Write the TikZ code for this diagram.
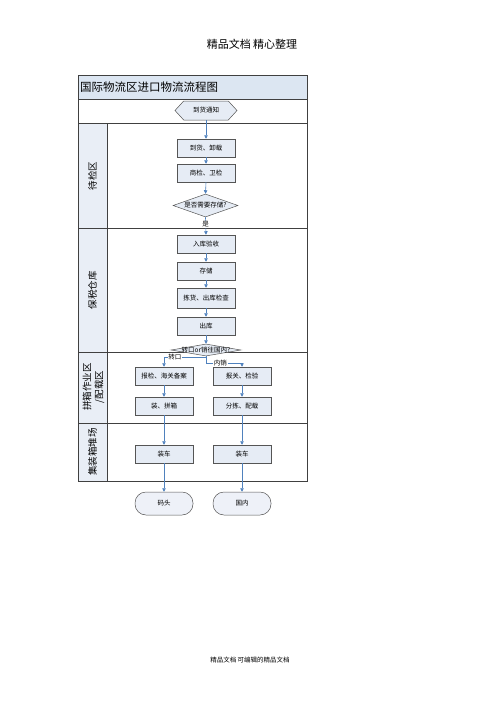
\documentclass[tikz,border=0pt]{standalone}
\usepackage{fontspec}
\setmainfont{Noto Sans CJK SC}
\usetikzlibrary{arrows.meta,shapes.geometric,shapes.symbols}
\definecolor{boxfill}{HTML}{E6ECF5}
\definecolor{boxline}{HTML}{555555}
\definecolor{framecol}{HTML}{404040}
\definecolor{titlefill}{HTML}{DCE6F2}
\definecolor{lanefill}{HTML}{E9EEF6}
\definecolor{arrowblue}{HTML}{4F81BD}
\definecolor{termfill}{HTML}{EEF1F8}
\begin{document}
\begin{tikzpicture}[x=1pt,y=-1pt,
  box/.style={draw=boxline, fill=boxfill, line width=0.5pt, minimum width=58pt, minimum height=18pt, inner sep=0pt, font=\fontsize{6.5}{7}\selectfont},
  term/.style={draw=boxline, fill=termfill, line width=0.5pt, rounded corners=11pt, minimum width=58pt, minimum height=23pt, inner sep=0pt, font=\fontsize{6.5}{7}\selectfont},
  dia/.style={diamond, draw=boxline, fill=boxfill, line width=0.5pt, inner sep=0pt},
  small/.style={font=\fontsize{6.5}{7}\selectfont, inner sep=0.5pt},
  lbl/.style={font=\fontsize{6.5}{7}\selectfont, fill=white, inner sep=0.6pt},
  conn/.style={draw=arrowblue, line width=0.6pt, -{Triangle[width=3.5pt,length=3.5pt]}},
  frame/.style={draw=framecol, line width=0.9pt},
  lanetext/.style={rotate=90, font=\fontsize{9.5}{12}\selectfont, align=center, inner sep=0pt}
]
\useasboundingbox (0,0) rectangle (500,707);

% header and footer
\node[font=\fontsize{11}{12}\selectfont] (hdr) at (252,44) {精品文档 精心整理};
\node[font=\fontsize{6.5}{7}\selectfont] (ftr) at (250,660) {精品文档 可编辑的精品文档};

% frame fills
\fill[titlefill] (78,75) rectangle (307,99);
\fill[lanefill] (78,123) rectangle (107,481);
% frame lines
\draw[frame] (78,75) rectangle (307,481);
\draw[frame] (78,99) -- (307,99);
\draw[frame] (78,123) -- (307,123);
\draw[frame] (78,228) -- (307,228);
\draw[frame] (78,352) -- (307,352);
\draw[frame] (78,423) -- (307,423);
\draw[frame] (107,123) -- (107,481);

% title
\node[anchor=west, font=\fontsize{11.5}{12}\selectfont, inner sep=0pt] (title) at (80,87.5) {国际物流区进口物流流程图};

% lane labels
\node[lanetext] (lane1) at (92.5,176) {待检区};
\node[lanetext] (lane2) at (92.5,290) {保税仓库};
\node[lanetext] (lane3) at (93.5,387) {拼箱作业区\\/配载区};
\node[lanetext] (lane4) at (92.5,452) {集装箱堆场};

% start hexagon
\node[signal, signal to=west and east, signal pointer angle=95, draw=boxline, fill=boxfill, line width=0.5pt, minimum width=62pt, minimum height=19pt, inner sep=0pt, font=\fontsize{6.5}{7}\selectfont] (start) at (206,110.5) {到货通知};

% lane 1
\node[box] (b1) at (206,148) {到货、卸载};
\node[box] (b2) at (206,173) {商检、卫检};
\node[dia, minimum width=65pt, minimum height=23pt] (d1) at (205.5,205.5) {};
\node[small] (d1t) at (d1) {是否需要存储?};

% lane 2
\node[box] (b3) at (206,244) {入库验收};
\node[box] (b4) at (206,271) {存储};
\node[box, minimum height=20pt] (b5) at (206,298) {拣货、出库检查};
\node[box] (b6) at (206,326) {出库};
\node[dia, minimum width=70pt, minimum height=12pt] (d2) at (206,350) {};
\node[small] (d2t) at (d2) {转口or销往国内?};

% lane 3
\node[box] (L1) at (164,376) {报检、海关备案};
\node[box] (R1) at (242,376) {报关、检验};
\node[box] (L2) at (164,406) {装、拼箱};
\node[box] (R2) at (242,406) {分拣、配载};

% lane 4
\node[box] (L3) at (164,454) {装车};
\node[box] (R3) at (242,454) {装车};

% terminals
\node[term] (T1) at (164,503.5) {码头};
\node[term] (T2) at (242,503.5) {国内};

% connectors
\draw[conn] (start.south) -- (b1.north);
\draw[conn] (b1.south) -- (b2.north);
\draw[conn] (b2.south) -- (d1.north);
\draw[conn] (d1.south) -- (b3.north) node[lbl, pos=0.4] {是};
\draw[conn] (b3.south) -- (b4.north);
\draw[conn] (b4.south) -- (b5.north);
\draw[conn] (b5.south) -- (b6.north);
\draw[conn] (b6.south) -- (d2.north);
\draw[conn] (d2.south) -- ++(0,1) -| (L1.north) node[lbl, pos=0.37] {转口};
\draw[conn] (d2.south) -- ++(0,7) -| (R1.north) node[lbl, pos=0.2] {内销};
\draw[conn] (L1.south) -- (L2.north);
\draw[conn] (R1.south) -- (R2.north);
\draw[conn] (L2.south) -- (L3.north);
\draw[conn] (R2.south) -- (R3.north);
\draw[conn] (L3.south) -- (T1.north);
\draw[conn] (R3.south) -- (T2.north);
\end{tikzpicture}
\end{document}
